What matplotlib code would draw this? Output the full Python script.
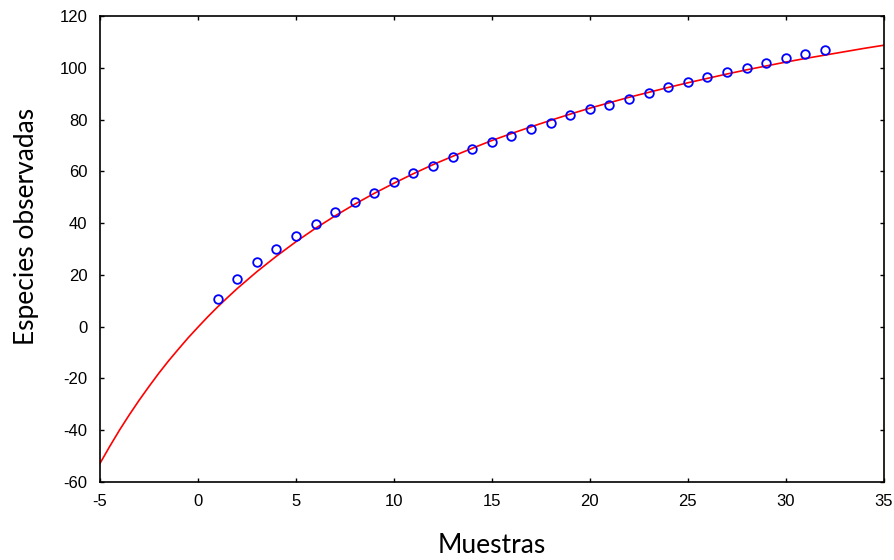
import matplotlib
matplotlib.use("Agg")
import matplotlib.pyplot as plt

plt.rcParams["font.family"] = ["Liberation Sans", "DejaVu Sans"]
plt.rcParams["axes.unicode_minus"] = False

samples = list(range(1, 33))
observed = [10.6, 18.6, 24.9, 29.9, 35.1, 39.7, 44.2, 48.2, 51.8, 55.7,
            59.2, 62.2, 65.6, 68.5, 71.4, 73.7, 76.5, 78.8, 81.8, 84.1,
            85.8, 88.1, 90.4, 92.6, 94.5, 96.6, 98.5, 100.1, 102.0, 103.7,
            105.4, 107.0]

# Fitted curve, values
curve_x = [-5, -4.5, -4, -3.5, -3, -2.5, -2, -1.5, -1, -0.5, 0, 0.5, 1, 1.5,
           2, 3, 4, 5, 6, 7, 8, 9, 10, 11, 12, 13, 14, 15, 16, 17, 18, 19,
           20, 21, 22, 23, 24, 25, 26, 27, 28, 29, 30, 31, 32, 33, 34, 35]
curve_y = [-52.8, -46.2, -39.9, -34.0, -28.4, -23.1, -18.0, -13.2, -8.7,
           -4.3, -0.2, 3.8, 7.6, 11.2, 14.7, 21.2, 27.2,
           32.8, 38.0, 42.8, 47.3, 51.5, 55.4, 59.1, 62.6, 65.8, 68.9,
           71.9, 74.6, 77.2, 79.7, 82.1, 84.4, 86.5, 88.6, 90.5, 92.4,
           94.2, 95.9, 97.6, 99.2, 100.7, 102.2, 103.6, 104.9, 106.2, 107.5,
           108.7]

x_ticks = [-5, 0, 5, 10, 15, 20, 25, 30, 35]
y_ticks = [-60, -40, -20, 0, 20, 40, 60, 80, 100, 120]

fig = plt.figure(figsize=(8.95, 5.6), dpi=100)
ax = fig.add_axes([100 / 895, 78 / 560, 783.7 / 895, 466 / 560])

ax.plot(curve_x, curve_y, color="#ff0000", lw=1.2, zorder=2)
ax.plot(samples, observed, linestyle="none", marker="o", markersize=6.2,
        markerfacecolor="none", markeredgecolor="#0000ff",
        markeredgewidth=1.3, zorder=3)

ax.set_xlim(-5, 35)
ax.set_ylim(-60, 120)
ax.set_xticks(x_ticks)
ax.set_yticks(y_ticks)
ax.tick_params(direction="in", length=3, width=1, top=True, right=True,
               labelsize=12, pad=9, colors="black")
for sp in ax.spines.values():
    sp.set_linewidth(1.2)
    sp.set_color("black")

ax.set_xlabel("Muestras", fontsize=19, family=["Lato", "DejaVu Sans"],
              labelpad=17)
ax.set_ylabel("Especies observadas", fontsize=19,
              family=["Lato", "DejaVu Sans"], labelpad=15)
ax.yaxis.label.set_y(0.548)

fig.savefig("out.png", dpi=100)
